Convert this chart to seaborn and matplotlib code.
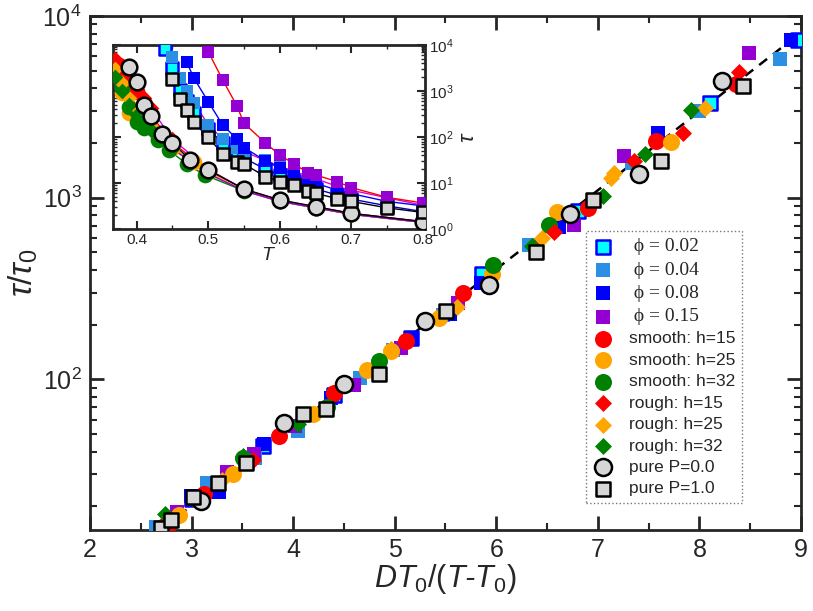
import numpy as np
import pandas as pd
import seaborn as sns
import matplotlib.pyplot as plt
from matplotlib.ticker import MultipleLocator, LogLocator, NullFormatter

# ---- main panel: scaled relaxation time vs D*T0/(T-T0) ----
phi02_x = [3.00, 3.70, 4.40, 5.16, 5.86, 6.80, 8.10, 8.97]
phi02_y = [22, 43, 82, 168, 380, 840, 3300, 7420]
phi04_x = [2.645, 3.15, 3.62, 4.05, 4.66, 4.98, 5.48, 6.32, 7.34, 8.00, 8.79]
phi04_y = [15.3, 27, 37, 52, 102, 145, 225, 550, 1550, 3000, 5790]
phi08_x = [2.99, 3.27, 3.71, 4.37, 5.16, 5.54, 5.85, 6.62, 7.59, 8.90]
phi08_y = [22.9, 24, 44, 79, 166, 229, 340, 690, 2270, 7420]
phi15_x = [2.86, 3.35, 3.61, 4.02, 4.60, 5.06, 5.62, 6.77, 7.26, 8.49]
phi15_y = [18.6, 31, 38.9, 55, 93, 148, 263, 703, 1700, 6240]
sm15_x = [2.78, 3.12, 3.86, 4.40, 5.11, 5.67, 6.90, 7.57, 8.36]
sm15_y = [16, 23.5, 49, 83.5, 162, 300, 875, 2050, 4200]
sm25_x = [2.88, 3.41, 4.20, 4.73, 4.96, 5.44, 5.96, 6.60, 7.72]
sm25_y = [17.8, 30, 64, 113, 143, 218, 378, 830, 2030]
sm32_x = [3.05, 3.51, 4.33, 4.85, 5.97, 6.52]
sm32_y = [22, 37, 70, 126, 426, 707]
ro15_x = [2.72, 3.60, 6.38, 6.57, 7.36, 7.84, 8.39]
ro15_y = [16, 36, 530, 650, 1590, 2270, 4900]
ro25_x = [3.30, 4.96, 5.61, 6.45, 7.13, 7.16, 8.06]
ro25_y = [28, 146, 251, 600, 1290, 1365, 3100]
ro32_x = [2.74, 3.51, 4.05, 6.35, 7.05, 7.46, 7.92]
ro32_y = [18.2, 38, 57, 540, 1024, 1730, 3030]
p0_x = [3.09, 3.91, 4.50, 5.30, 5.93, 6.73, 7.41, 8.22]
p0_y = [21.4, 57.1, 94.6, 209, 331, 813, 1350, 4365]
p1_x = [2.70, 2.80, 3.01, 3.26, 3.54, 4.10, 4.32, 4.85, 5.51, 6.39, 6.95, 7.62, 8.43]
p1_y = [15.1, 16.8, 22.4, 26.9, 34.7, 64.6, 68.4, 107, 237, 501, 966, 1585, 4140]
# VFT master curve (straight on semilog axes), two end points
fit_x = [2.6, 8.9]
fit_y = [13.5, 7332]

# ---- inset: tau vs T ----
phi02_T = [0.44, 0.45, 0.46, 0.47, 0.48, 0.50, 0.52, 0.54, 0.55, 0.58, 0.60, 0.62, 0.64, 0.65, 0.68, 0.70, 0.75, 0.80]
phi02_tau = [8000, 3200, 1070, 600, 330, 150, 75, 42, 35, 20, 15, 11, 8.5, 7.5, 5.5, 4.5, 3.2, 2.4]
phi04_T = [0.45, 0.46, 0.47, 0.48, 0.50, 0.52, 0.54, 0.55, 0.58, 0.60, 0.62, 0.64, 0.65, 0.68, 0.70, 0.75, 0.80]
phi04_tau = [5600, 1900, 1000, 560, 185, 92, 58, 48, 31, 23, 18, 14, 12.5, 8.5, 7, 4.8, 3.3]
phi08_T = [0.47, 0.48, 0.50, 0.52, 0.54, 0.55, 0.58, 0.60, 0.62, 0.64, 0.65, 0.68, 0.70, 0.75, 0.80]
phi08_tau = [4270, 1900, 590, 185, 91, 59, 30.5, 21, 15, 11, 10, 7, 5.9, 4, 3.2]
phi15_T = [0.50, 0.52, 0.54, 0.55, 0.58, 0.60, 0.62, 0.64, 0.65, 0.68, 0.70, 0.75, 0.80]
phi15_tau = [7200, 1770, 480, 200, 74, 41, 26, 16.5, 15, 10.8, 8, 4.9, 3.7]
sm15_T = [0.375, 0.38, 0.39, 0.40, 0.41, 0.42, 0.45, 0.50, 0.55, 0.60, 0.65, 0.70, 0.80]
sm15_tau = [3700, 2700, 1500, 950, 520, 300, 75, 19, 7.2, 4.2, 3.0, 2.2, 1.45]
sm25_T = [0.37, 0.38, 0.39, 0.40, 0.41, 0.43, 0.45, 0.48, 0.50, 0.55, 0.60, 0.65, 0.70, 0.80]
sm25_tau = [2500, 900, 340, 250, 170, 95, 58, 28, 17, 7, 4.1, 2.9, 2.1, 1.4]
sm32_T = [0.38, 0.39, 0.40, 0.41, 0.43, 0.445, 0.47, 0.495, 0.55, 0.60, 0.65, 0.70, 0.80]
sm32_tau = [1200, 450, 213, 160, 87, 52, 26, 15, 6.8, 4.0, 2.9, 2.1, 1.4]
ro15_T = [0.37, 0.38, 0.39, 0.40, 0.41, 0.42, 0.45, 0.50, 0.55, 0.60, 0.65, 0.70, 0.80]
ro15_tau = [5000, 3000, 1800, 1100, 700, 420, 90, 20, 7.4, 4.3, 3.0, 2.2, 1.45]
ro25_T = [0.37, 0.38, 0.39, 0.40, 0.41, 0.42, 0.45, 0.50, 0.55, 0.60, 0.65, 0.70, 0.80]
ro25_tau = [3000, 1500, 700, 420, 260, 170, 60, 17, 6.9, 4.0, 2.9, 2.1, 1.4]
ro32_T = [0.37, 0.38, 0.39, 0.40, 0.41, 0.42, 0.45, 0.50, 0.55, 0.60, 0.65, 0.70, 0.80]
ro32_tau = [2000, 1000, 500, 300, 200, 140, 55, 16, 6.8, 4.0, 2.9, 2.1, 1.4]
p0_T = [0.39, 0.40, 0.41, 0.42, 0.435, 0.45, 0.475, 0.50, 0.55, 0.60, 0.65, 0.70, 0.80]
p0_tau = [3400, 1580, 485, 290, 118, 74, 32, 19.5, 7.4, 4.3, 3.1, 2.2, 1.46]
p1_T = [0.45, 0.46, 0.47, 0.48, 0.50, 0.52, 0.54, 0.55, 0.58, 0.60, 0.62, 0.64, 0.65, 0.68, 0.70, 0.75, 0.80]
p1_tau = [1820, 670, 390, 210, 98, 43.5, 28, 26, 13.8, 10.8, 8.9, 6.6, 6.0, 4.6, 4.0, 2.9, 2.3]

labels = [" ϕ = 0.02", " ϕ = 0.04", " ϕ = 0.08", " ϕ = 0.15",
          "smooth: h=15", "smooth: h=25", "smooth: h=32",
          "rough: h=15", "rough: h=25", "rough: h=32",
          "pure P=0.0", "pure P=1.0"]

sns.set_theme(style="ticks")
plt.rcParams["font.family"] = ["Liberation Sans", "DejaVu Sans"]
plt.rcParams["mathtext.fontset"] = "custom"
plt.rcParams["mathtext.rm"] = "Liberation Sans"
plt.rcParams["mathtext.it"] = "Liberation Sans:italic"

# (main x, main y, inset T, inset tau, marker, face, edge, line colour in inset, size)
series = [
    (phi02_x, phi02_y, phi02_T, phi02_tau, "s", "#00FFFF", "#0000FF", "#0000CC", 100),
    (phi04_x, phi04_y, phi04_T, phi04_tau, "s", "#2B8FE3", "#2B8FE3", "#E000E0", 100),
    (phi08_x, phi08_y, phi08_T, phi08_tau, "s", "#0000FF", "#0000FF", "#0000FF", 100),
    (phi15_x, phi15_y, phi15_T, phi15_tau, "s", "#9400D3", "#9400D3", "#FF0000", 100),
    (sm15_x, sm15_y, sm15_T, sm15_tau, "o", "#FF0000", "#FF0000", "#FF0000", 150),
    (sm25_x, sm25_y, sm25_T, sm25_tau, "o", "#FFA500", "#FFA500", "#9ACD32", 150),
    (sm32_x, sm32_y, sm32_T, sm32_tau, "o", "#008000", "#008000", "#008000", 150),
    (ro15_x, ro15_y, ro15_T, ro15_tau, "D", "#FF0000", "#FF0000", "#E000E0", 75),
    (ro25_x, ro25_y, ro25_T, ro25_tau, "D", "#FFA500", "#FFA500", "#FFA500", 75),
    (ro32_x, ro32_y, ro32_T, ro32_tau, "D", "#008000", "#008000", "#9400D3", 75),
    (p0_x, p0_y, p0_T, p0_tau, "o", "#D6D6D6", "#000000", "#000000", 150),
    (p1_x, p1_y, p1_T, p1_tau, "s", "#D6D6D6", "#000000", "#000000", 100),
]

fig = plt.figure(figsize=(8.13, 6.11), dpi=100)
ax = fig.add_axes([0.1107, 0.1326, 0.8745, 0.8412])
ax_in = fig.add_axes([0.139, 0.625, 0.3838, 0.3014])

sns.lineplot(x=fit_x, y=fit_y, ax=ax, color="black", lw=1.8, dashes=(4, 3), zorder=1)

for (mx, my, T, tau, mk, fc, ec, lc, s), lab in zip(series, labels):
    lw = 1.8 if ec != fc else 0
    sns.scatterplot(x=mx, y=my, ax=ax, marker=mk, s=s, color=fc, edgecolor=ec,
                    linewidth=lw, label=lab, zorder=3)
    df = pd.DataFrame({"T": T, "tau": tau})
    sns.lineplot(data=df, x="T", y="tau", ax=ax_in, color=lc, lw=1, sort=False,
                 estimator=None, zorder=2)
    sns.scatterplot(data=df, x="T", y="tau", ax=ax_in, marker=mk, s=s * 0.85,
                    color=fc, edgecolor=ec, linewidth=lw, zorder=3)

# main axes styling
ax.set_yscale("log")
ax.set_xlim(2, 9)
ax.set_ylim(14.8, 1e4)
ax.xaxis.set_major_locator(MultipleLocator(1))
ax.xaxis.set_minor_locator(MultipleLocator(0.5))
ax.yaxis.set_minor_locator(LogLocator(base=10, subs=np.arange(2, 10)))
ax.yaxis.set_minor_formatter(NullFormatter())
ax.tick_params(which="both", direction="in", top=True, right=True, labelsize=18, pad=6)
ax.tick_params(which="major", length=10, width=2)
ax.tick_params(which="minor", length=5, width=1.5)
for sp in ax.spines.values():
    sp.set_linewidth(2)
ax.set_xlabel(r"$DT_0/(T$-$T_0)$", fontsize=22, style="italic", labelpad=0)
ax.set_ylabel(r"$\tau/\tau_0$", fontsize=24, labelpad=2)

leg = ax.legend(loc="lower left", bbox_to_anchor=(0.697, 0.052), fontsize=12.5,
                frameon=True, fancybox=False, handletextpad=0.9, labelspacing=0.36,
                borderpad=0.4, handlelength=1.2, borderaxespad=0)
leg.get_frame().set_linestyle(":")
leg.get_frame().set_edgecolor("#555555")
leg.get_frame().set_linewidth(1)
for t in leg.get_texts()[:4]:
    t.set_fontfamily(["Liberation Serif", "DejaVu Serif"])
    t.set_fontsize(14)

# inset styling
ax_in.set_yscale("log")
ax_in.set_xlim(0.367, 0.803)
ax_in.set_ylim(1, 1e4)
ax_in.xaxis.set_major_locator(MultipleLocator(0.1))
ax_in.xaxis.set_minor_locator(MultipleLocator(0.05))
ax_in.yaxis.set_minor_locator(LogLocator(base=10, subs=np.arange(2, 10)))
ax_in.yaxis.set_minor_formatter(NullFormatter())
ax_in.tick_params(which="both", direction="in", top=True, right=True, left=True,
                  labelleft=False, labelright=True, labelsize=11, pad=3)
ax_in.tick_params(which="major", length=6, width=1.5)
ax_in.tick_params(which="minor", length=3, width=1)
for sp in ax_in.spines.values():
    sp.set_linewidth(2)
ax_in.yaxis.set_label_position("right")
ax_in.set_xlabel("$T$", fontsize=14, labelpad=0)
ax_in.set_ylabel(r"$\tau$", fontsize=16, labelpad=3)

fig.savefig("out.png", dpi=100)
